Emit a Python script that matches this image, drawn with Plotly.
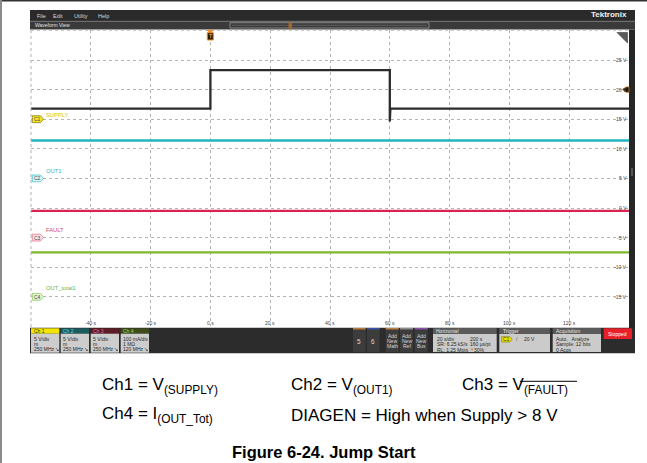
import plotly.graph_objects as go

W, H = 647, 463
FONT = "Liberation Sans, Arial, sans-serif"

# ---------------- data ----------------
time_ticks = [-40, -20, 0, 20, 40, 60, 80, 100, 120]
time_labels = ["-40 s", "-20 s", "0 s", "20 s", "40 s", "60 s", "80 s", "100 s", "120 s"]
volt_ticks = [25, 20, 15, 10, 5, 0, -5, -10, -15]
volt_labels = ["25 V", "20 V", "15 V", "10 V", "5 V", "0 V", "-5 V", "-10 V", "-15 V"]

t_supply = [-60, 0, 0, 60, 60, 60.2, 140]
v_supply = [16.8, 16.8, 23.3, 23.3, 14.6, 16.8, 16.8]
t_out1 = [-60, 140]
v_out1 = [11.4, 11.4]
t_fault = [-60, 140]
v_fault = [-0.5, -0.5]
t_iout = [-60, 140]
v_iout = [-7.5, -7.5]

channel_names = ["SUPPLY", "OUT1", "FAULT", "OUT_total1"]
channel_ids = ["C1", "C2", "C3", "C4"]
channel_ground = [15, 5, -5, -15]
channel_label_offset = [0.75, 1.25, 1.35, 1.45]
channel_line = ["#2b2b2b", "#22b4bf", "#d92452", "#7cb82c"]
channel_label_col = ["#d4c400", "#30b8c4", "#d84868", "#78b030"]
badge_fill = ["#f3e62c", "#d9f4f6", "#fde2e7", "#e6f5d6"]
badge_edge = ["#8a7f00", "#4cc4ce", "#e07a90", "#8cc860"]

trigger_time = 0
trigger_level = 20

# ---------------- helpers ----------------
def X(px):
    return px / W

def Y(py):
    return 1 - py / H

shapes = []
annots = []

def rect(x0, y0, x1, y1, fill, line=None, lw=0):
    shapes.append(dict(type="rect", xref="paper", yref="paper",
                       x0=X(x0), x1=X(x1), y0=Y(y1), y1=Y(y0),
                       fillcolor=fill, line=dict(color=line or fill, width=lw),
                       layer="above"))

def hline(x0, x1, y, color, w=1, dash="solid"):
    shapes.append(dict(type="line", xref="paper", yref="paper",
                       x0=X(x0), x1=X(x1), y0=Y(y), y1=Y(y),
                       line=dict(color=color, width=w, dash=dash), layer="above"))

def vline(x, y0, y1, color, w=1, dash="solid"):
    shapes.append(dict(type="line", xref="paper", yref="paper",
                       x0=X(x), x1=X(x), y0=Y(y0), y1=Y(y1),
                       line=dict(color=color, width=w, dash=dash), layer="above"))

def poly(pts, fill, line=None, lw=0.8):
    p = "M " + " L ".join(f"{X(a):.5f},{Y(b):.5f}" for a, b in pts) + " Z"
    shapes.append(dict(type="path", xref="paper", yref="paper", path=p,
                       fillcolor=fill, line=dict(color=line or fill, width=lw),
                       layer="above"))

def txt(x, y, s, size=5.5, color="#222", anchor="left", bold=False, family=FONT):
    annots.append(dict(x=X(x), y=Y(y), xref="paper", yref="paper", text=s,
                       showarrow=False, xanchor=anchor, yanchor="middle",
                       font=dict(size=size, color=color, family=family,
                                 weight="bold" if bold else "normal"),
                       borderpad=0))

# ---------------- figure ----------------
fig = go.Figure()
series = [(t_supply, v_supply), (t_out1, v_out1), (t_fault, v_fault), (t_iout, v_iout)]
for (t, v), col, name in zip(series, channel_line, channel_names):
    fig.add_trace(go.Scatter(x=t, y=v, mode="lines", name=name,
                             line=dict(color=col, width=2.3), showlegend=False,
                             hoverinfo="skip"))

# outer border
rect(0, 0, W, 1.6, "#333333")
rect(0, 0, 2, H, "#8a8a8a")

# scope chrome: menu bar and waveform view bar
rect(30, 10, 635, 21, "#2a2a2a")
for s, x in zip(["File", "Edit", "Utility", "Help"], [36, 52, 73, 97]):
    txt(x, 15.5, s, 5.5, "#d8d8d8")
txt(628, 15, "Tektronix", 8, "#f2f2f2", anchor="right", bold=True)
rect(30, 21, 635, 29.5, "#3a3a3a")
hline(30, 635, 21.3, "#8a8a8a", 0.8)
txt(34, 25.3, "Waveform View", 5, "#e0e0e0")
rect(230, 22.7, 429, 28, "rgba(0,0,0,0)", "#9a9a9a", 0.8)
hline(232, 427, 25.3, "#777777", 0.6)
rect(288.5, 22.3, 292, 28.8, "#a0682c")

# right side dark bar
rect(629, 29.5, 635, 328, "#262626")
rect(631, 168, 633, 176, "#555555")

# plot borders (dotted)
vline(31, 30, 327, "#b0b0b0", 1, "dot")
hline(31, 629, 30.2, "#b0b0b0", 1, "dot")

# top-right corner icon
poly([(617, 32.5), (627.5, 32.5), (627.5, 43)], "#5a5a5a")

# trigger position marker
poly([(207, 30.3), (213.5, 30.3), (210.2, 32.6)], "#f08a20")
rect(207.3, 32.7, 213.3, 40, "#2a1a08", "#f08a20", 1)
txt(210.3, 36.5, "T", 5, "#f0a040", anchor="center", bold=True)

# bottom dark panel
rect(30, 327.7, 635, 353.3, "#2c2c2c")

# channel badges
hdr_fill = ["#f2e600", "#1d5c5e", "#5c1c28", "#3e4c1c"]
hdr_txt = ["#333333", "#5ad0d8", "#f07090", "#a8d858"]
ch_lines = [["5 V/div", "m", "250 MHz ↘"], ["5 V/div", "m", "250 MHz ↘"],
            ["5 V/div", "m", "250 MHz ↘"], ["100 mA/div", "1 MΩ", "120 MHz ↘"]]
for i, x0 in enumerate([31, 60.7, 90.7, 120.7]):
    rect(x0, 328.3, x0 + 28.3, 333.7, hdr_fill[i])
    txt(x0 + 1.5, 331.0, "Ch " + str(i + 1), 5, hdr_txt[i])
    rect(x0, 333.7, x0 + 28.3, 352.7, "#cdcdcd")
    for j, s in enumerate(ch_lines[i]):
        txt(x0 + 1.5, 338.8 + j * 5.3, s, 5, "#2a2a2a")

# 5 / 6 boxes
for x0, top, s in [(353, "#b87a3a", "5"), (367, "#3c52a6", "6")]:
    rect(x0, 328, x0 + 12.7, 352, "#3c3c3c")
    rect(x0, 328, x0 + 12.7, 329.5, top)
    txt(x0 + 6.3, 341, s, 6.5, "#d8d8d8", anchor="center")
for x0, top, s in [(385.7, "#c08040", "Math"), (400, "#8c8c8c", "Ref"), (414.7, "#8a52a8", "Bus")]:
    rect(x0, 328, x0 + 13, 352, "#3c3c3c")
    rect(x0, 328, x0 + 13, 329.5, top)
    for j, w in enumerate(["Add", "New", s]):
        txt(x0 + 6.5, 335.5 + j * 5.4, w, 5, "#d8d8d8", anchor="center")

# Horizontal panel
rect(433, 328, 496.7, 334, "#5a5a5a")
txt(435, 331, "Horizontal", 5, "#e6e6e6")
rect(433, 334, 496.7, 352, "#cbcbcb")
for j, (a, b) in enumerate([("20 s/div", "200 s"), ("SR: 6.25 kS/s", "160 µs/pt"),
                            ("RL: 1.25 Mpts", "30%")]):
    txt(435.5, 338.5 + j * 5.6, a, 5, "#2a2a2a")
    txt(468.5 if j < 2 else 473, 338.5 + j * 5.6, b, 5, "#2a2a2a")
txt(468.5, 349.7, "▼", 4.5, "#d08a20")

# Trigger panel
rect(499.3, 328, 550, 334, "#5a5a5a")
txt(501.5, 331, "Trigger", 5, "#e6e6e6")
rect(499.3, 334, 550, 352, "#cbcbcb")
poly([(501.7, 336.7), (510, 336.7), (512, 339.3), (510, 342), (501.7, 342)], "#f2e600", "#7a7000", 0.6)
txt(506, 339.4, "C1", 5, "#333333", anchor="center")
txt(517, 339.3, "/", 5.5, "#555555", anchor="center")
txt(523.3, 339.3, "20 V", 5, "#2a2a2a")

# Acquisition panel
rect(552.7, 328, 601, 334, "#5a5a5a")
txt(555, 331, "Acquisition", 5, "#e6e6e6")
rect(552.7, 334, 601, 352, "#cbcbcb")
for j, s in enumerate(["Auto,   Analyze", "Sample: 12 bits", "0 Acqs"]):
    txt(555, 338.5 + j * 5.6, s, 5, "#2a2a2a")

# Stopped button
rect(603.7, 328.3, 632, 339, "#e8202c")
txt(617.8, 333.7, "Stopped", 5, "#ffffff", anchor="center")

# axis value labels (inside plot)
for v, s in zip(volt_ticks, volt_labels):
    annots.append(dict(x=X(628), y=v, xref="paper", yref="y", text=s, showarrow=False,
                       xanchor="right", yanchor="middle", borderpad=0,
                       font=dict(size=5, color="#444444", family=FONT)))
for t, s in zip(time_ticks, time_labels):
    annots.append(dict(x=t, y=Y(323), xref="x", yref="paper", text=s, showarrow=False,
                       xanchor="center", yanchor="middle", borderpad=0,
                       font=dict(size=5, color="#444444", family=FONT)))

# trigger level marker on right edge
shapes.append(dict(type="path", xref="paper", yref="y",
                   path=f"M {X(622.5)},{trigger_level} L {X(626)},{trigger_level + 0.45} "
                        f"L {X(629)},{trigger_level + 0.45} L {X(629)},{trigger_level - 0.45} "
                        f"L {X(626)},{trigger_level - 0.45} Z",
                   fillcolor="#1a1a1a", line=dict(color="#c87a20", width=0.8), layer="above"))

# channel ground badges and labels
dy = 3.4 / 5.92
for i in range(4):
    g = channel_ground[i]
    x0, x1, xt = X(32.3), X(40.5), X(43.5)
    shapes.append(dict(type="path", xref="paper", yref="y",
                       path=f"M {x0},{g + dy} L {x1},{g + dy} L {xt},{g} L {x1},{g - dy} L {x0},{g - dy} Z",
                       fillcolor=badge_fill[i], line=dict(color=badge_edge[i], width=0.8),
                       layer="above"))
    annots.append(dict(x=X(37.2), y=g, xref="paper", yref="y", text=channel_ids[i],
                       showarrow=False, xanchor="center", yanchor="middle", borderpad=0,
                       font=dict(size=5, color="#444444", family=FONT)))
    annots.append(dict(x=X(44.5), y=g + channel_label_offset[i], xref="paper", yref="y",
                       text=channel_names[i], showarrow=False, xanchor="left",
                       yanchor="middle", borderpad=0,
                       font=dict(size=5.8, color=channel_label_col[i], family=FONT)))

# caption
CAP = 17
txt(101, 386, "Ch1 = V<sub>(SUPPLY)</sub>", CAP, "#000000")
txt(290, 386, "Ch2 = V<sub>(OUT1)</sub>", CAP, "#000000")
txt(461, 386, "Ch3 = V<sub>(FAULT)</sub>", CAP, "#000000")
hline(520, 577, 381.3, "#000000", 1)
txt(101, 415, "Ch4 = I<sub>(OUT_Tot)</sub>", CAP, "#000000")
txt(290, 415, "DIAGEN = High when Supply &gt; 8 V", CAP, "#000000")
txt(323.5, 452, "Figure 6-24. Jump Start", 16.5, "#000000", anchor="center", bold=True)

fig.update_layout(
    width=W, height=H, autosize=False,
    margin=dict(l=0, r=0, t=0, b=0, pad=0),
    paper_bgcolor="#ffffff", plot_bgcolor="#ffffff",
    shapes=shapes, annotations=annots,
    xaxis=dict(domain=[X(31), X(629)], range=[-60, 140], tickvals=time_ticks,
               showticklabels=False, ticks="", showgrid=True, gridcolor="#b4b4b4",
               griddash="dot", gridwidth=1, zeroline=False, showline=False, fixedrange=True),
    yaxis=dict(domain=[Y(326.4), Y(30.4)], range=[-20, 30], tickvals=volt_ticks,
               showticklabels=False, ticks="", showgrid=True, gridcolor="#b4b4b4",
               griddash="dot", gridwidth=1, zeroline=False, showline=False, fixedrange=True),
    showlegend=False,
)

fig.write_html("out.html", config={"displayModeBar": False},
               post_script="document.body.style.margin='0';document.body.style.overflow='hidden';")
